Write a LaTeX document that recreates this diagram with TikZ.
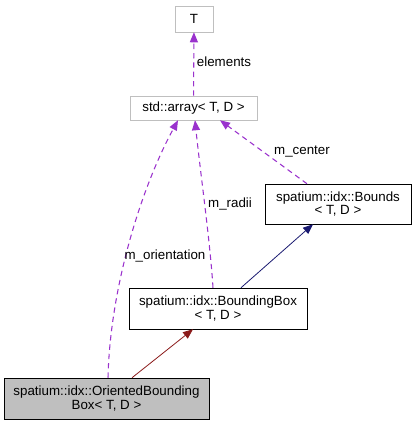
\documentclass[tikz,border=0pt]{standalone}
\usepackage{fontspec}
\setmainfont{Liberation Sans}
\usepackage{tikz}
\usetikzlibrary{arrows.meta,positioning,calc}
\usepackage{xcolor}
\definecolor{member}{HTML}{9A32CD}
\definecolor{pubinh}{HTML}{191970}
\definecolor{protinh}{HTML}{8B1A1A}
\definecolor{extbox}{HTML}{BFBFBF}
\definecolor{focus}{HTML}{BFBFBF}

\begin{document}
\begin{tikzpicture}[x=0.75pt, y=-0.75pt,
  cls/.style={draw, thin, inner sep=0pt, align=center, font=\fontsize{10}{10}\selectfont},
  ext/.style={cls, draw=extbox},
  usage/.style={-{Triangle[length=7.5pt, width=6pt]}, member, dash pattern=on 4pt off 3pt, thick},
  inh/.style={-{Triangle[length=7.5pt, width=6pt]}, semithick},
  lbl/.style={font=\fontsize{10}{10}\selectfont, inner sep=1pt}
]
  \useasboundingbox (0,0) rectangle (416,425);

  % Classes
  \node[ext, minimum width=28.5pt, minimum height=19.5pt] (tparam) at (194,19) {T};
  \node[ext, minimum width=95pt, minimum height=18pt] (array) at (193.5,108) {std::array< T, D >};
  \node[cls, minimum width=109.5pt, minimum height=30pt] (bounds) at (338,204) {spatium::idx::Bounds\\< T, D >};
  \node[cls, minimum width=133.5pt, minimum height=30.75pt] (bbox) at (218,308.5) {spatium::idx::BoundingBox\\< T, D >};
  \node[cls, fill=focus, minimum width=153.75pt, minimum height=30.75pt] (obb) at (106.5,398.5) {spatium::idx::OrientedBounding\\Box< T, D >};

  % Members
  \draw[usage] (array) -- (tparam);
  \node[lbl] (elem) at (224,62) {elements};
  \draw[usage] ($(obb.north)+(1.5,0)$) .. controls (110,290) and (140,190) .. ($(array.south)+(-15.5,0)$);
  \node[lbl] (orient) at (165,256) {m\_orientation};
  \draw[usage] ($(bbox.north)+(-5,0)$) .. controls (210,240) and (200,170) .. ($(array.south)+(1.5,0)$);
  \node[lbl] (radii) at (230,204) {m\_radii};
  \draw[usage] ($(bounds.north)+(-31,0)$) -- ($(array.south)+(26.5,0)$);
  \node[lbl] (center) at (302,152) {m\_center};

  % Inheritance
  \draw[inh, pubinh] ($(bbox.north)+(23,0)$) -- ($(bounds.south)+(-25,0)$);
  \draw[inh, protinh] ($(obb.north)+(25.5,0)$) -- ($(bbox.south)+(-25,0)$);
\end{tikzpicture}
\end{document}
